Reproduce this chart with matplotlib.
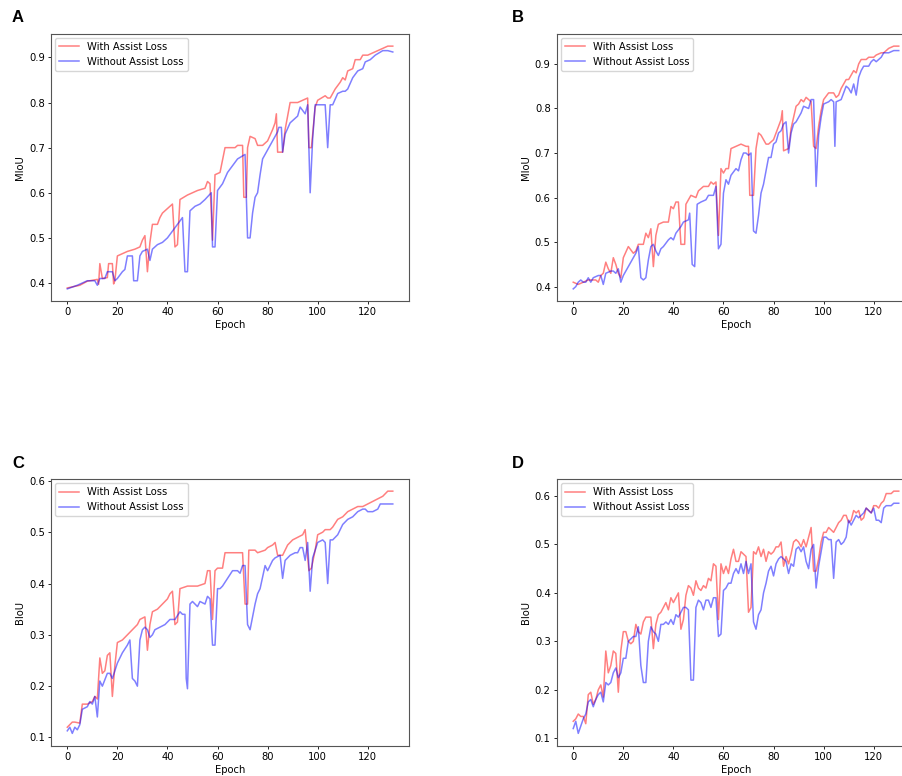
import matplotlib
matplotlib.use("Agg")
import matplotlib.pyplot as plt

# (epoch, value) vertices
A_WITH = [(0, .389), (5, .395), (8, .404), (12, .408), (12.5, .397), (13, .443), (14, .41), (16, .412),
          (16.5, .443), (18, .443), (18.5, .398), (19, .405), (20, .46), (22, .465), (24, .47), (27, .475),
          (29, .48), (30, .495), (31, .505), (32, .425), (33, .49), (34, .53), (36, .53), (37, .545),
          (38, .555), (40, .565), (42, .575), (43, .48), (44, .485), (45, .585), (48, .595), (52, .605),
          (55, .61), (56, .625), (57, .62), (58, .495), (59, .64), (61, .645), (63, .70), (67, .70),
          (68, .705), (70, .705), (70.5, .59), (71.5, .59), (72, .70), (73, .725), (75, .72), (76, .705),
          (78, .705), (80, .715), (82, .74), (83, .755), (83.5, .775), (84, .69), (86, .69), (87, .74),
          (88, .77), (89, .80), (92, .80), (94, .805), (96, .81), (96.5, .70), (97.5, .70), (99, .79),
          (100, .805), (103, .815), (104, .81), (105, .81), (107, .83), (109, .845), (110, .855), (111, .85),
          (112, .87), (114, .875), (115, .895), (117, .895), (118, .905), (120, .905), (122, .91),
          (124, .915), (126, .92), (128, .925), (130, .925)]
A_WITHOUT = [(0, .387), (4, .395), (8, .405), (11, .405), (12, .395), (13, .41), (15, .41), (16, .425),
             (18, .425), (19, .405), (20, .41), (22, .425), (23, .43), (24, .46), (26, .46), (26.5, .405),
             (28, .405), (29, .46), (30, .47), (32, .475), (33, .45), (34, .475), (36, .485), (38, .49),
             (40, .50), (42, .515), (44, .53), (46, .545), (47, .425), (48, .425), (49, .56), (51, .57),
             (53, .575), (55, .585), (57.5, .60), (58, .48), (59, .48), (60, .605), (62, .62), (64, .645),
             (66, .66), (68, .675), (71, .685), (72, .50), (73, .50), (74, .555), (75, .59), (76, .60),
             (77, .64), (78, .675), (80, .695), (82, .715), (83, .725), (84, .735), (84.5, .745),
             (85.5, .745), (86, .69), (87, .73), (89, .755), (91, .765), (92, .77), (93, .79), (95, .775),
             (96, .795), (97, .60), (98, .72), (99, .795), (103, .795), (104, .70), (105, .795), (106, .795),
             (108, .82), (110, .825), (111, .825), (112, .83), (114, .855), (116, .87), (118, .875),
             (119, .89), (121, .895), (123, .905), (126, .915), (128, .915), (130, .912)]

B_WITH = [(0, .41), (2, .405), (4, .41), (6, .415), (9, .415), (10, .41), (11, .425), (12, .43), (13, .455),
          (14, .44), (15, .43), (16, .465), (17, .45), (18, .43), (19, .42), (20, .465), (22, .49), (24, .475),
          (25, .48), (26, .495), (28, .495), (29, .52), (30, .51), (31, .53), (32, .445), (33, .515),
          (34, .54), (36, .545), (38, .545), (39, .58), (40, .575), (41, .59), (42, .59), (43, .495),
          (44.5, .495), (45, .585), (46, .595), (47, .605), (49, .60), (50, .615), (52, .625), (54, .625),
          (55, .635), (56, .63), (57, .635), (58, .515), (59, .665), (60, .655), (61, .665), (62, .665),
          (63, .71), (65, .715), (67, .72), (69, .715), (70, .715), (70.5, .605), (72, .605), (73, .71),
          (74, .745), (75, .74), (77, .72), (78, .72), (80, .73), (81, .745), (82, .76), (83, .775),
          (83.5, .795), (84, .705), (86, .71), (87, .755), (88, .78), (89, .805), (90, .81), (91, .82),
          (92, .815), (93, .825), (94, .82), (95, .815), (96, .715), (97, .71), (98, .76), (99, .795),
          (100, .82), (102, .835), (104, .835), (105, .825), (106, .83), (107, .845), (109, .865),
          (110, .865), (111, .875), (112, .885), (113, .88), (114, .90), (115, .91), (117, .91), (118, .915),
          (120, .915), (121, .92), (123, .925), (124, .925), (125, .93), (126, .935), (128, .94), (130, .94)]
B_WITHOUT = [(0, .395), (1, .40), (2, .41), (3, .415), (4, .41), (5, .41), (6, .42), (7, .41), (8, .42),
             (10, .425), (11, .425), (12, .405), (13, .43), (15, .435), (16, .435), (17, .43), (18, .44),
             (19, .41), (20, .425), (22, .445), (24, .465), (25, .475), (26, .49), (27, .42), (28, .415),
             (29, .42), (30, .46), (31, .49), (32, .495), (33, .48), (34, .47), (35, .485), (36, .49),
             (38, .505), (39, .51), (40, .505), (41, .52), (43, .535), (44, .545), (46, .55), (46.5, .565),
             (47.5, .45), (48.5, .445), (49.5, .585), (51, .59), (53, .595), (54, .605), (56, .605),
             (57, .625), (58, .485), (59, .495), (60, .61), (61, .64), (62, .63), (63, .65), (65, .665),
             (66, .66), (67, .685), (68, .70), (69, .70), (70, .695), (71, .70), (72, .525), (73, .52),
             (74, .56), (75, .61), (76, .63), (77, .66), (78, .69), (79, .69), (80, .72), (81, .725),
             (82, .745), (83, .75), (84, .765), (85, .77), (86, .70), (87, .745), (88, .765), (89, .77),
             (90, .78), (91, .79), (92, .805), (94, .80), (95, .82), (96, .82), (97, .625), (98, .74),
             (99, .78), (100, .81), (102, .815), (103, .82), (104, .815), (104.5, .715), (105, .815),
             (107, .82), (108, .835), (109, .85), (110, .845), (111, .835), (112, .855), (113, .83),
             (114, .87), (115, .885), (116, .895), (118, .895), (119, .905), (120, .91), (121, .905),
             (123, .915), (124, .925), (126, .925), (128, .93), (130, .93)]

C_WITH = [(0, .12), (1, .125), (2, .13), (3, .13), (5, .128), (6, .165), (8, .165), (10, .17), (11, .18),
          (12, .175), (13, .255), (14, .225), (15, .23), (16, .26), (17, .265), (18, .18), (19, .24),
          (20, .285), (22, .29), (24, .30), (26, .31), (28, .32), (29, .33), (31, .335), (32, .27),
          (33, .32), (34, .345), (36, .35), (38, .36), (40, .37), (41, .38), (42, .385), (43, .32),
          (44, .325), (45, .39), (48, .395), (52, .395), (55, .40), (56, .425), (57, .425), (58, .33),
          (59, .425), (60, .43), (62, .43), (63, .46), (66, .46), (70, .46), (71, .36), (72, .36),
          (72.5, .465), (75, .465), (76, .46), (79, .465), (80, .47), (82, .475), (83, .48), (84, .455),
          (86, .455), (88, .475), (90, .485), (92, .49), (94, .495), (95, .505), (96.5, .425), (97.5, .43),
          (99, .465), (100, .495), (102, .50), (103, .505), (105, .505), (106, .51), (108, .525),
          (110, .53), (112, .54), (114, .545), (116, .55), (118, .55), (120, .555), (122, .56), (124, .565),
          (126, .57), (128, .58), (130, .58)]
C_WITHOUT = [(0, .113), (1, .12), (2, .108), (3, .12), (4, .115), (5, .125), (6, .155), (8, .16), (9, .17),
             (10, .165), (11, .18), (12, .14), (13, .21), (14, .20), (16, .225), (17, .225), (18, .215),
             (20, .245), (22, .265), (24, .28), (25, .29), (26, .215), (27, .21), (28, .20), (29, .29),
             (30, .31), (31, .315), (32, .31), (33, .295), (34, .30), (35, .31), (37, .315), (39, .32),
             (41, .33), (43, .33), (45, .345), (46, .34), (47, .34), (47.5, .215), (48, .195), (49, .36),
             (50, .365), (52, .355), (53, .365), (55, .36), (56, .375), (57, .37), (58, .28), (59, .28),
             (60, .39), (61, .39), (62, .395), (64, .41), (66, .425), (68, .425), (69, .42), (70, .435),
             (71, .435), (72, .32), (73, .31), (75, .36), (76, .38), (77, .39), (79, .435), (80, .425),
             (82, .445), (83, .45), (85, .455), (86, .41), (87, .445), (89, .455), (91, .46), (92, .46),
             (93, .47), (94, .47), (95, .445), (96, .48), (97, .385), (98, .45), (100, .48), (102, .485),
             (103, .48), (104, .40), (105, .485), (106, .485), (108, .495), (110, .515), (112, .525),
             (114, .53), (116, .54), (118, .545), (119, .545), (120, .54), (122, .54), (124, .545),
             (125, .555), (128, .555), (130, .555)]

D_WITH = [(0, .135), (1, .14), (2, .15), (3, .145), (4, .145), (5, .13), (6, .19), (7, .195), (8, .17),
          (9, .18), (10, .20), (11, .21), (12, .185), (13, .28), (14, .235), (15, .25), (16, .28), (17, .275),
          (18, .195), (19, .28), (20, .32), (21, .32), (22, .30), (23, .295), (24, .30), (25, .335),
          (26, .32), (27, .315), (28, .34), (29, .35), (31, .35), (32, .285), (33, .335), (34, .355),
          (35, .36), (36, .37), (37, .38), (38, .365), (39, .39), (40, .38), (41, .39), (42, .40), (43, .325),
          (44, .345), (45, .395), (46, .415), (47, .41), (48, .395), (49, .425), (50, .41), (51, .405),
          (52, .415), (53, .41), (54, .43), (55, .425), (56, .46), (57, .455), (58, .345), (59, .46),
          (60, .44), (61, .455), (62, .44), (63, .47), (64, .49), (65, .465), (66, .465), (67, .485),
          (68, .48), (69, .475), (70, .36), (71, .37), (72, .485), (73, .48), (74, .495), (75, .475),
          (76, .49), (77, .465), (78, .485), (79, .48), (80, .485), (81, .495), (82, .495), (83, .505),
          (84, .455), (85, .475), (86, .46), (87, .48), (88, .505), (89, .51), (90, .505), (91, .495),
          (92, .51), (93, .495), (94, .515), (95, .535), (96, .445), (97, .445), (98, .47), (99, .505),
          (100, .525), (101, .525), (102, .535), (103, .53), (104, .525), (105, .535), (106, .545),
          (107, .55), (108, .56), (109, .56), (110, .545), (111, .55), (112, .57), (113, .565), (114, .57),
          (115, .55), (116, .555), (117, .575), (118, .57), (119, .565), (120, .58), (121, .58), (122, .575),
          (123, .585), (124, .59), (125, .605), (127, .605), (128, .61), (130, .61)]
D_WITHOUT = [(0, .12), (1, .135), (2, .11), (3, .125), (4, .14), (5, .15), (6, .175), (7, .18), (8, .165),
             (9, .18), (10, .19), (11, .195), (12, .175), (13, .215), (14, .21), (15, .215), (16, .235),
             (17, .245), (18, .225), (19, .235), (20, .265), (21, .265), (22, .30), (23, .305), (24, .31),
             (25, .31), (26, .33), (27, .25), (28, .215), (29, .215), (30, .30), (31, .33), (32, .32),
             (33, .315), (34, .30), (35, .335), (36, .335), (37, .34), (38, .335), (39, .345), (40, .335),
             (41, .355), (42, .35), (43, .36), (44, .37), (45, .37), (46, .365), (47, .22), (48, .22),
             (49, .37), (50, .385), (51, .38), (52, .365), (53, .385), (54, .385), (55, .37), (56, .39),
             (57, .39), (58, .31), (59, .315), (60, .405), (61, .41), (62, .42), (63, .42), (64, .44),
             (65, .45), (66, .44), (67, .46), (68, .44), (69, .465), (70, .44), (71, .46), (72, .34),
             (73, .325), (74, .355), (75, .365), (76, .40), (77, .42), (78, .445), (79, .455), (80, .435),
             (81, .46), (82, .47), (83, .475), (84, .47), (85, .465), (86, .44), (87, .46), (88, .455),
             (89, .49), (90, .495), (91, .485), (92, .495), (93, .465), (94, .45), (95, .49), (96, .50),
             (97, .41), (98, .455), (99, .485), (100, .515), (101, .515), (102, .51), (103, .51), (104, .43),
             (105, .505), (106, .51), (107, .50), (108, .505), (109, .515), (110, .55), (111, .54),
             (112, .55), (113, .56), (114, .555), (115, .56), (116, .565), (117, .575), (118, .57),
             (119, .565), (120, .575), (121, .55), (122, .55), (123, .545), (124, .575), (125, .58),
             (127, .58), (128, .585), (130, .585)]

PANELS = [
    ("A", "MIoU", A_WITH, A_WITHOUT, [0.0565, 0.6121, 0.3965, 0.3441], (18, 18)),
    ("B", "MIoU", B_WITH, B_WITHOUT, [0.6168, 0.6121, 0.3965, 0.3441], (518, 17)),
    ("C", "BIoU", C_WITH, C_WITHOUT, [0.0565, 0.0393, 0.3965, 0.3434], (18, 463)),
    ("D", "BIoU", D_WITH, D_WITHOUT, [0.6168, 0.0393, 0.3965, 0.3434], (518, 463)),
]

FS = 7.2
W, H = 903, 776

fig = plt.figure(figsize=(W / 100, H / 100), dpi=100)

for letter, ylabel, with_pts, without_pts, rect, (lx, ly) in PANELS:
    ax = fig.add_axes(rect)
    x1, y1 = zip(*with_pts)
    x2, y2 = zip(*without_pts)
    ax.plot(x1, y1, color="r", alpha=0.5, linewidth=1.1, label="With Assist Loss")
    ax.plot(x2, y2, color="b", alpha=0.5, linewidth=1.1, label="Without Assist Loss")
    ax.set_xticks([0, 20, 40, 60, 80, 100, 120])
    ax.set_xlabel("Epoch", fontsize=FS, labelpad=2)
    ax.set_ylabel(ylabel, fontsize=FS, labelpad=3)
    ax.tick_params(labelsize=FS, length=2.5, width=0.6, pad=2)
    for sp in ax.spines.values():
        sp.set_linewidth(0.8)
        sp.set_color("#555555")
    ax.legend(loc="upper left", fontsize=FS, handlelength=2.0, borderaxespad=0.4)
    fig.text(lx / W, 1 - ly / H, letter, fontsize=12, weight="bold",
             family="Liberation Sans", ha="center", va="center")

fig.savefig("out.png", dpi=100)
